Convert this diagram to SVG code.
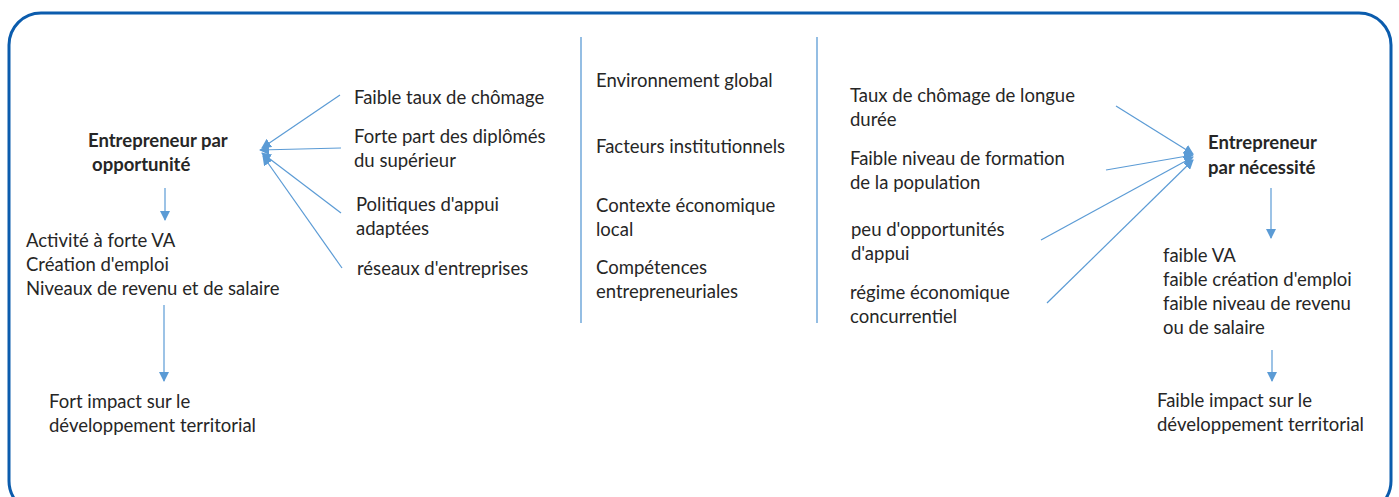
<svg xmlns="http://www.w3.org/2000/svg" width="1399" height="497" viewBox="0 0 1399 497">
<defs>
<style>
text{font-family:Lato,"Open Sans","Liberation Sans",sans-serif;font-size:18.5px;fill:#262626}
.b{font-weight:bold}
.c{stroke:#5b9bd5;stroke-width:1.2;fill:none}
.sep{stroke:#5b9bd5;stroke-width:1.3}
</style>
<marker id="ah" viewBox="0 0 10 10" refX="9" refY="5" markerWidth="10" markerHeight="10" markerUnits="userSpaceOnUse" orient="auto">
<path d="M0,0 L10,5 L0,10 z" fill="#5b9bd5"/>
</marker>
</defs>
<rect x="0" y="0" width="1399" height="497" fill="#fff"/>
<rect id="frame" x="9" y="13" width="1382" height="500" rx="32" ry="32" fill="none" stroke="#0b5cad" stroke-width="3"/>
<g id="connectors">
<line class="c" x1="340" y1="95" x2="262" y2="148" marker-end="url(#ah)"/>
<line class="c" x1="341" y1="148" x2="260" y2="150" marker-end="url(#ah)"/>
<line class="c" x1="341" y1="213" x2="262" y2="153" marker-end="url(#ah)"/>
<line class="c" x1="342" y1="268" x2="263" y2="156" marker-end="url(#ah)"/>
<line class="c" x1="1116" y1="106" x2="1193" y2="154" marker-end="url(#ah)"/>
<line class="c" x1="1106" y1="170" x2="1193" y2="155" marker-end="url(#ah)"/>
<line class="c" x1="1041" y1="240" x2="1193" y2="157" marker-end="url(#ah)"/>
<line class="c" x1="1047" y1="303" x2="1193" y2="160" marker-end="url(#ah)"/>
<line class="c" x1="165" y1="188" x2="165" y2="220" marker-end="url(#ah)"/>
<line class="c" x1="164" y1="305" x2="164" y2="381" marker-end="url(#ah)"/>
<line class="c" x1="1271" y1="188" x2="1271" y2="238" marker-end="url(#ah)"/>
<line class="c" x1="1272" y1="350" x2="1272" y2="381" marker-end="url(#ah)"/>
<line class="sep" x1="581" y1="37" x2="581" y2="323"/>
<line class="sep" x1="817" y1="37" x2="817" y2="323"/>
</g>
<g id="opp">
<text class="b" x="88" y="147">Entrepreneur par</text>
<text class="b" x="92" y="171">opportunité</text>
</g>
<g id="f1"><text x="354" y="104">Faible taux de chômage</text></g>
<g id="f2"><text x="354" y="143">Forte part des diplômés</text><text x="354" y="167">du supérieur</text></g>
<g id="f3"><text x="356" y="211">Politiques d'appui</text><text x="356" y="235">adaptées</text></g>
<g id="f4"><text x="357" y="275">réseaux d'entreprises</text></g>
<g id="res1"><text x="26" y="247">Activité à forte VA</text><text x="26" y="271">Création d'emploi</text><text x="26" y="295">Niveaux de revenu et de salaire</text></g>
<g id="imp1"><text x="49" y="408">Fort impact sur le</text><text x="49" y="432">développement territorial</text></g>
<g id="mid">
<text x="596" y="87">Environnement global</text>
<text x="596" y="153">Facteurs institutionnels</text>
<text x="596" y="212">Contexte économique</text><text x="596" y="236">local</text>
<text x="596" y="274">Compétences</text><text x="596" y="298">entrepreneuriales</text>
</g>
<g id="n1"><text x="850" y="102">Taux de chômage de longue</text><text x="850" y="126">durée</text></g>
<g id="n2"><text x="850" y="165">Faible niveau de formation</text><text x="850" y="189">de la population</text></g>
<g id="n3"><text x="851" y="236">peu d'opportunités</text><text x="851" y="260">d'appui</text></g>
<g id="n4"><text x="850" y="299">régime économique</text><text x="850" y="323">concurrentiel</text></g>
<g id="nec"><text class="b" x="1208" y="149">Entrepreneur</text><text class="b" x="1208" y="174">par nécessité</text></g>
<g id="res2"><text x="1163" y="262">faible VA</text><text x="1163" y="286">faible création d'emploi</text><text x="1163" y="310">faible niveau de revenu</text><text x="1163" y="334">ou de salaire</text></g>
<g id="imp2"><text x="1157" y="407">Faible impact sur le</text><text x="1157" y="431">développement territorial</text></g>
</svg>
